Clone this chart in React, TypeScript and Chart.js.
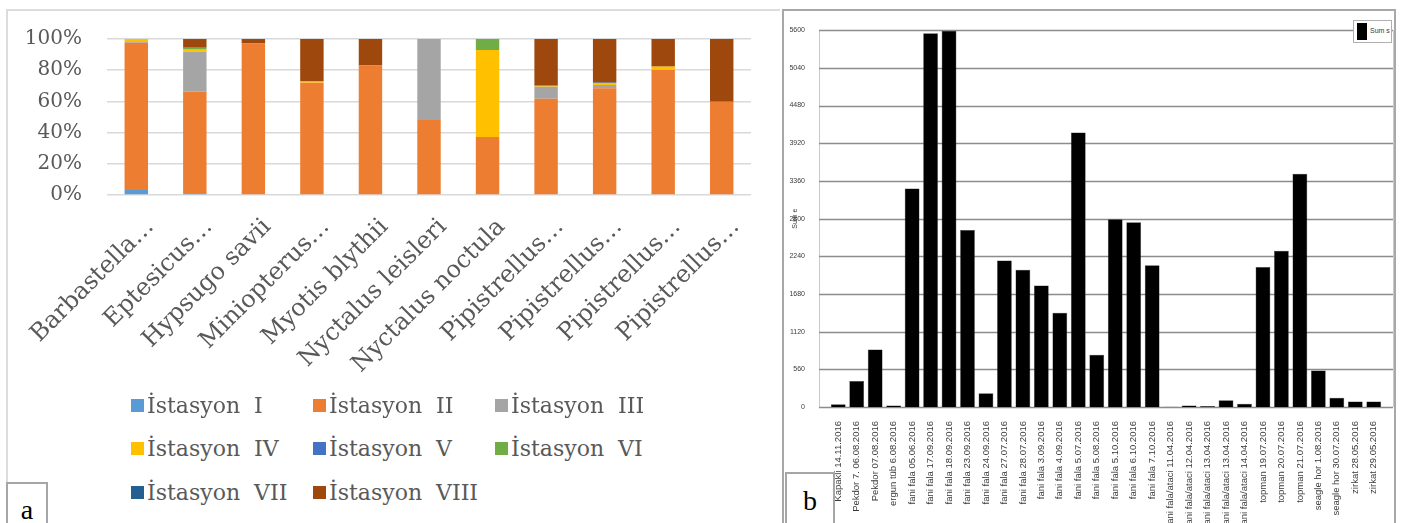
import React, { useEffect, useRef } from "react";
import { Chart, registerables } from "chart.js";

Chart.register(...registerables);

// ---------- Panel a data ----------
const speciesLabels = [
  "Barbastella…",
  "Eptesicus…",
  "Hypsugo savii",
  "Miniopterus…",
  "Myotis blythii",
  "Nyctalus leisleri",
  "Nyctalus noctula",
  "Pipistrellus…",
  "Pipistrellus…",
  "Pipistrellus…",
  "Pipistrellus…",
];
const stationNames = [
  "İstasyon  I",
  "İstasyon  II",
  "İstasyon  III",
  "İstasyon  IV",
  "İstasyon  V",
  "İstasyon  VI",
  "İstasyon  VII",
  "İstasyon  VIII",
];
const stationColors = ["#5B9BD5", "#ED7D31", "#A5A5A5", "#FFC000", "#4472C4", "#70AD47", "#255E91", "#9E480E"];
const istasyonI = [3.8, 1.2, 0, 0, 0, 0, 0, 0, 0, 0, 0];
const istasyonII = [93.8, 65.0, 97.2, 72.0, 83.1, 48.1, 37.2, 61.7, 68.4, 80.1, 59.8];
const istasyonIII = [0.9, 25.7, 0, 0, 0, 51.9, 0, 7.7, 2.1, 0, 0];
const istasyonIV = [1.5, 1.3, 0, 0.7, 0, 0, 55.7, 0.6, 1.3, 2.2, 0];
const istasyonV = [0, 0, 0, 0, 0, 0, 0, 0, 0, 0, 0];
const istasyonVI = [0, 1.2, 0, 0, 0, 0, 7.1, 0, 0, 0, 0];
const istasyonVII = [0, 0, 0, 0, 0, 0, 0, 0, 0.3, 0, 0];
const istasyonVIII = [0, 5.6, 2.8, 27.3, 16.9, 0, 0, 30.0, 27.9, 17.7, 40.2];
const stationSeries = [istasyonI, istasyonII, istasyonIII, istasyonIV, istasyonV, istasyonVI, istasyonVII, istasyonVIII];
const percentTicks = [0, 20, 40, 60, 80, 100];

// ---------- Panel b data ----------
const siteDates = [
  "Kapakli 14.11.2016",
  "Pekdor 7. 06.08.2016",
  "Pekdor 07.08.2016",
  "ergun tüb 6.08.2016",
  "fani fala 05.06.2016",
  "fani fala 17.09.2016",
  "fani fala 18.09.2016",
  "fani fala 23.09.2016",
  "fani fala 24.09.2016",
  "fani fala 27.07.2016",
  "fani fala 28.07.2016",
  "fani fala 3.09.2016",
  "fani fala 4.09.2016",
  "fani fala 5.07.2016",
  "fani fala 5.08.2016",
  "fani fala 5.10.2016",
  "fani fala 6.10.2016",
  "fani fala 7.10.2016",
  "fani fala/ataci 11.04.2016",
  "fani fala/ataci 12.04.2016",
  "fani fala/ataci 13.04.2016",
  "fani fala/ataci 13.04.2016",
  "fani fala/ataci 14.04.2016",
  "topman 19.07.2016",
  "topman 20.07.2016",
  "topman 21.07.2016",
  "seagle hor 1.08.2016",
  "seagle hor 30.07.2016",
  "zirkat 28.05.2016",
  "zirkat 29.05.2016",
];
const sumValues = [
  40, 387, 855, 24, 3246, 5556, 5590, 2630, 205, 2177, 2038, 1804, 1399, 4081, 778,
  2792, 2745, 2105, 4, 24, 14, 100, 47, 2081, 2324, 3465, 544, 139, 82, 82,
];
const sumTickStep = 560;
const sumMax = 5600;

const fullGridPlugin = {
  id: "fullGrid",
  beforeDatasetsDraw(chart: any) {
    const { ctx, chartArea } = chart;
    const y = chart.scales.y;
    const left = chartArea.left - 10;
    const right = chartArea.right + 10;
    ctx.save();
    ctx.strokeStyle = "#c9c9c9";
    ctx.lineWidth = 1;
    ctx.beginPath();
    ctx.moveTo(left + 0.5, y.top);
    ctx.lineTo(left + 0.5, y.bottom);
    ctx.moveTo(right + 0.5, y.top);
    ctx.lineTo(right + 0.5, y.bottom);
    ctx.stroke();
    ctx.strokeStyle = "#8c8c8c";
    ctx.lineWidth = 1.5;
    y.ticks.forEach((t: any) => {
      const py = Math.round(y.getPixelForValue(t.value)) + 0.5;
      ctx.beginPath();
      ctx.moveTo(left, py);
      ctx.lineTo(right, py);
      ctx.stroke();
    });
    ctx.restore();
  },
};

function PanelA() {
  const ref = useRef<HTMLCanvasElement>(null);
  useEffect(() => {
    const chart = new Chart(ref.current!, {
      type: "bar",
      data: {
        labels: speciesLabels,
        datasets: stationSeries.map((d, i) => ({
          label: stationNames[i],
          data: d,
          backgroundColor: stationColors[i],
          borderWidth: 0,
          barPercentage: 0.4,
          categoryPercentage: 1,
        })),
      },
      options: {
        animation: false,
        responsive: false,
        layout: { padding: { left: 0, top: 39, right: 29, bottom: 0 } },
        plugins: { legend: { display: false }, tooltip: { enabled: false } },
        scales: {
          x: {
            stacked: true,
            grid: { display: false },
            border: { display: false },
            ticks: {
              autoSkip: false,
              minRotation: 45,
              maxRotation: 45,
              padding: 10,
              labelOffset: 14,
              color: "#595959",
              font: { family: "DejaVu Serif", size: 24 },
            },
            afterFit: (s: any) => {
              s.height = 205;
              s.paddingLeft = 0;
              s.paddingRight = 0;
            },
          },
          y: {
            stacked: true,
            min: 0,
            max: 100,
            afterBuildTicks: (s: any) => {
              s.ticks = percentTicks.map((v) => ({ value: v }));
            },
            grid: { color: "#d9d9d9", lineWidth: 1.5, drawTicks: false },
            border: { display: false },
            ticks: {
              padding: 25,
              color: "#595959",
              font: { family: "DejaVu Serif", size: 20 },
              callback: (v: any) => v + "%",
            },
            afterFit: (s: any) => {
              s.width = 107;
            },
          },
        },
      },
    });
    return () => chart.destroy();
  }, []);
  const cols = [131, 313, 495];
  const rows = [405, 448, 492];
  return (
    <>
      <canvas ref={ref} width={780} height={400} style={{ position: "absolute", left: 0, top: 0, width: 780, height: 400 }} />
      {stationNames.map((n, i) => (
        <div
          key={i}
          style={{
            position: "absolute",
            left: cols[i % 3],
            top: rows[Math.floor(i / 3)] - 14,
            height: 28,
            display: "flex",
            alignItems: "center",
            whiteSpace: "pre",
            fontFamily: "DejaVu Serif",
            fontSize: 22,
            color: "#595959",
          }}
        >
          <span style={{ display: "inline-block", width: 13, height: 13, background: stationColors[i], marginRight: 3 }} />
          {n}
        </div>
      ))}
      <div
        style={{
          position: "absolute",
          left: 6,
          top: 482,
          width: 42,
          height: 45,
          border: "2px solid #a6a6a6",
          boxSizing: "border-box",
          fontFamily: "Liberation Serif",
          fontSize: 28,
          color: "#000",
          textAlign: "center",
          lineHeight: "52px",
        }}
      >
        a
      </div>
    </>
  );
}

function PanelB() {
  const ref = useRef<HTMLCanvasElement>(null);
  useEffect(() => {
    const chart = new Chart(ref.current!, {
      type: "bar",
      data: {
        labels: siteDates,
        datasets: [
          {
            label: "Sum s",
            data: sumValues,
            backgroundColor: "#000000",
            borderColor: "#3a3a3a",
            borderWidth: 0.5,
            barPercentage: 0.8,
            categoryPercentage: 1,
          },
        ],
      },
      plugins: [fullGridPlugin],
      options: {
        animation: false,
        responsive: false,
        layout: { padding: { left: 0, top: 6, right: 12, bottom: 0 } },
        plugins: { legend: { display: false }, tooltip: { enabled: false } },
        scales: {
          x: {
            grid: { display: false },
            border: { display: false },
            ticks: {
              autoSkip: false,
              minRotation: 90,
              maxRotation: 90,
              padding: 6,
              color: "#3a3a3a",
              font: { family: "Liberation Sans", size: 9.5 },
            },
            afterFit: (s: any) => {
              s.height = 116;
              s.paddingLeft = 0;
              s.paddingRight = 0;
            },
          },
          y: {
            min: 0,
            max: sumMax,
            grid: { display: false },
            border: { display: false },
            ticks: {
              stepSize: sumTickStep,
              padding: 16,
              color: "#3a3a3a",
              font: { family: "Liberation Sans", size: 7 },
              callback: (v: any) => String(v),
            },
            title: {
              display: true,
              text: "Sum e",
              color: "#3a3a3a",
              font: { family: "Liberation Sans", size: 7 },
              padding: { top: 8, bottom: 0 },
            },
            afterFit: (s: any) => {
              s.width = 46;
            },
          },
        },
      },
    });
    return () => chart.destroy();
  }, []);
  return (
    <>
      <canvas ref={ref} width={612} height={513} style={{ position: "absolute", left: 783, top: 10, width: 612, height: 513 }} />
      <div
        style={{
          position: "absolute",
          left: 1353,
          top: 20,
          width: 39,
          height: 23,
          border: "1px solid #b0b0b0",
          boxSizing: "border-box",
          background: "#fff",
        }}
      >
        <span style={{ position: "absolute", left: 3, top: 2, width: 10, height: 17, background: "#000" }} />
        <span
          style={{
            position: "absolute",
            left: 16,
            top: 6,
            fontFamily: "Liberation Sans",
            fontSize: 7,
            color: "#3a3a3a",
          }}
        >
          Sum s
        </span>
      </div>
      <div
        style={{
          position: "absolute",
          left: 785,
          top: 472,
          width: 50,
          height: 55,
          border: "2px solid #a6a6a6",
          boxSizing: "border-box",
          background: "#fff",
          fontFamily: "Liberation Serif",
          fontSize: 28,
          color: "#000",
          textAlign: "center",
          lineHeight: "54px",
        }}
      >
        b
      </div>
    </>
  );
}

export default function App() {
  return (
    <div
      style={{
        position: "fixed",
        left: 0,
        top: 0,
        width: 1408,
        height: 523,
        background: "#fff",
        overflow: "hidden",
      }}
    >
      <div
        style={{
          position: "absolute",
          left: 6,
          top: 9,
          width: 774,
          height: 530,
          borderTop: "2px solid #dcdcdc",
          borderLeft: "2px solid #dcdcdc",
          boxSizing: "border-box",
        }}
      />
      <div
        style={{
          position: "absolute",
          left: 782,
          top: 9,
          width: 614,
          height: 530,
          border: "2px solid #a8a8a8",
          boxSizing: "border-box",
        }}
      />
      <PanelA />
      <PanelB />
    </div>
  );
}
